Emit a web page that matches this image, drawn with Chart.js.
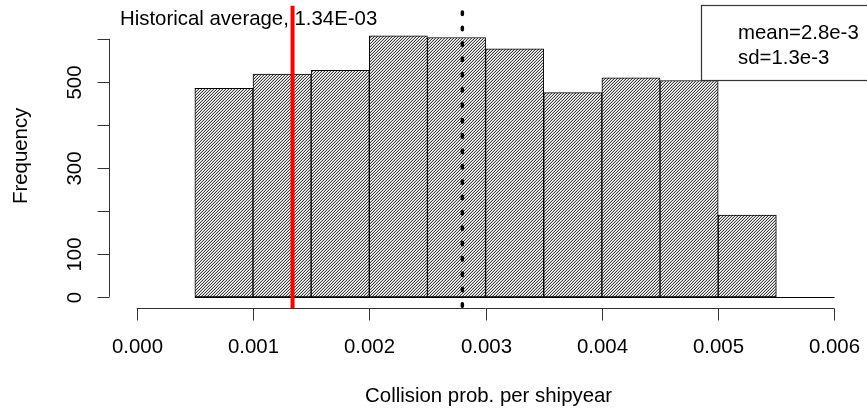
<!DOCTYPE html>
<html><head><meta charset="utf-8">
<script src="https://cdn.jsdelivr.net/npm/chart.js@4/dist/chart.umd.min.js"></script>
<style>html,body{margin:0;padding:0;background:#fff}#wrap{width:867px;height:408px;position:relative}</style>
</head><body><div id="wrap"><canvas id="c" width="867" height="408"></canvas></div>
<script>
// ---- data ----
const binStarts = [0.0005,0.0010,0.0015,0.0020,0.0025,0.0030,0.0035,0.0040,0.0045,0.0050,0.0055];
const binWidth = 0.0005;
const counts = [485,518,527,607,603,577,475,509,503,190,0];
const xTicks = [0,0.001,0.002,0.003,0.004,0.005,0.006];
const xTickLabels = ['0.000','0.001','0.002','0.003','0.004','0.005','0.006'];
const yTicks = [0,100,200,300,400,500,600];
const yTickLabels = ['0','100','','300','','500',''];
const histAvg = 0.00134;
const simMean = 0.0028;
const topText = 'Historical average, 1.34E-03';
const legendLines = ['mean=2.8e-3','sd=1.3e-3'];
const xTitle = 'Collision prob. per shipyear';
const yTitle = 'Frequency';
const xRange = [-0.00024, 0.00624];
const yRange = [-26.04, 677.04];

const FONT = '20.4px "Liberation Sans", Arial, sans-serif';
const canvas = document.getElementById('c');
const ctx0 = canvas.getContext('2d');

function makeHatch(){
  const t = document.createElement('canvas'); t.width = 3; t.height = 3;
  const g = t.getContext('2d');
  const img = g.createImageData(3,3);
  for (let y=0;y<3;y++) for (let x=0;x<3;x++){
    const k = (x+y)%3;
    const v = k===2 ? 60 : (k===1 ? 205 : 255);
    const i = (y*3+x)*4;
    img.data[i]=v; img.data[i+1]=v; img.data[i+2]=v; img.data[i+3]=255;
  }
  g.putImageData(img,0,0);
  return ctx0.createPattern(t,'repeat');
}
const hatch = makeHatch();

function seg(ctx,x1,y1,x2,y2){ctx.beginPath();ctx.moveTo(x1,y1);ctx.lineTo(x2,y2);ctx.stroke();}

const decor = {
  id:'decor',
  afterDatasetsDraw(chart){
    const ctx = chart.ctx, xs = chart.scales.x, ys = chart.scales.y, ca = chart.chartArea;
    ctx.save();
    // baseline of histogram (zero-height last bin)
    ctx.strokeStyle = '#000'; ctx.lineWidth = 1;
    const y0 = Math.round(ys.getPixelForValue(0)) + 0.5;
    seg(ctx, xs.getPixelForValue(binStarts[0]), y0, xs.getPixelForValue(binStarts[binStarts.length-1]+binWidth), y0);
    // red historical average line
    ctx.strokeStyle = '#ff0000'; ctx.lineWidth = 4;
    const xr = xs.getPixelForValue(histAvg);
    seg(ctx, xr, ca.top, xr, ca.bottom);
    // dotted mean line
    ctx.strokeStyle = '#000'; ctx.lineWidth = 3.5; ctx.lineCap = 'round';
    ctx.setLineDash([2.5, 12.85]); ctx.lineDashOffset = -6.3;
    const xm = xs.getPixelForValue(simMean);
    seg(ctx, xm, ca.top, xm, ca.bottom);
    ctx.setLineDash([]); ctx.lineCap = 'butt';
    // axes
    ctx.strokeStyle = '#333'; ctx.lineWidth = 1;
    const axY = Math.round(ca.bottom) + 0.5;
    seg(ctx, xs.getPixelForValue(xTicks[0]), axY, xs.getPixelForValue(xTicks[xTicks.length-1]), axY);
    ctx.font = FONT; ctx.fillStyle = '#000'; ctx.textAlign = 'center'; ctx.textBaseline = 'alphabetic';
    xTicks.forEach((v,i)=>{
      const px = Math.round(xs.getPixelForValue(v)) + 0.5;
      seg(ctx, px, axY, px, axY + 12);
      ctx.fillText(xTickLabels[i], px, axY + 44);
    });
    const axX = Math.round(ca.left) + 0.5;
    seg(ctx, axX, ys.getPixelForValue(yTicks[yTicks.length-1]), axX, ys.getPixelForValue(yTicks[0]));
    yTicks.forEach((v,i)=>{
      const py = Math.round(ys.getPixelForValue(v)) + 0.5;
      seg(ctx, axX - 12, py, axX, py);
      if (yTickLabels[i]) {
        ctx.save(); ctx.translate(axX - 29, py); ctx.rotate(-Math.PI/2);
        ctx.fillText(yTickLabels[i], 0, 0); ctx.restore();
      }
    });
    // axis titles
    ctx.fillText(xTitle, (ca.left + ca.right)/2 + 3, axY + 93);
    ctx.save(); ctx.translate(axX - 83, (ca.top + ca.bottom)/2 - 1); ctx.rotate(-Math.PI/2);
    ctx.fillText(yTitle, 0, 0); ctx.restore();
    // top annotation
    ctx.textAlign = 'left';
    ctx.fillText(topText, 120, 25);
    // legend box
    ctx.fillStyle = '#fff'; ctx.fillRect(702, 6, 180, 75);
    ctx.strokeStyle = '#333'; ctx.lineWidth = 1.2; ctx.strokeRect(701.5, 5.5, 180, 75);
    ctx.fillStyle = '#000';
    ctx.fillText(legendLines[0], 738, 39);
    ctx.fillText(legendLines[1], 738, 64);
    ctx.restore();
  }
};

new Chart(ctx0, {
  type: 'bar',
  data: { datasets: [{
    data: binStarts.map((s,i)=>({x: s + binWidth/2, y: counts[i]})),
    backgroundColor: hatch, borderColor: '#000', borderWidth: 1, borderSkipped: false,
    barPercentage: 1, categoryPercentage: 1
  }]},
  options: {
    responsive: false, animation: false, events: [],
    layout: { padding: { left: 108.8, right: 4.6, top: 5.7, bottom: 100 } },
    plugins: { legend: { display: false }, tooltip: { enabled: false } },
    scales: {
      x: { type: 'linear', min: xRange[0], max: xRange[1], display: false, offset: false },
      y: { type: 'linear', min: yRange[0], max: yRange[1], display: false }
    }
  },
  plugins: [decor]
});
</script></body></html>
